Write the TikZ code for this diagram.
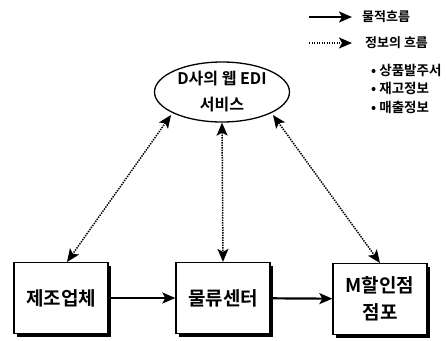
\documentclass[tikz,border=0pt]{standalone}
\usepackage{fontspec}
\setmainfont{Noto Sans CJK KR}[BoldFont={* Bold}]
\usetikzlibrary{arrows.meta,shadows,shapes.geometric}
\begin{document}
\begin{tikzpicture}[x=1pt,y=-1pt,
  box/.style={draw,line width=1.3pt,fill=white,minimum width=94pt,minimum height=71pt,
    inner sep=0pt,align=center,font=\fontsize{19}{27}\selectfont\bfseries,
    drop shadow={shadow xshift=3pt,shadow yshift=-3pt,fill=black,opacity=1}},
  tip/.tip={Stealth[length=13pt,width=11pt,inset=3pt]},
  flow/.style={line width=2.2pt,-tip},
  info/.style={line width=1.5pt,dash pattern=on 1.4pt off 1.1pt,tip-tip},
  lg/.style={font=\fontsize{13}{14}\selectfont\bfseries,anchor=west,inner sep=0pt},
  lb/.style={font=\fontsize{13.5}{14}\selectfont\bfseries,anchor=west,inner sep=0pt}
]
\useasboundingbox (0,0) rectangle (446,340);
% nodes
\node[draw,ellipse,line width=1.3pt,minimum width=135pt,minimum height=60pt,inner sep=0pt,align=center,
  font=\fontsize{16}{26}\selectfont\bfseries] (edi) at (222,92) {D사의 웹 EDI\\서비스};
\node[box] (mfg) at (61,298) {제조업체};
\node[box] (dc) at (223,298) {물류센터};
\node[box] (store) at (380,299) {M할인점\\점포};
% flows
\draw[flow] (mfg) -- (dc);
\draw[flow] (dc) -- (store);
% info
\coordinate (e1) at (171,115);
\coordinate (e3) at (273,115);
\draw[info] (e1) -- (67,262);
\draw[info] (edi.south) -- (dc.north);
\draw[info] (e3) -- (380,263);
% legend
\coordinate (l1a) at (309,17); \coordinate (l1b) at (352,17);
\coordinate (l2a) at (309,43); \coordinate (l2b) at (352,43);
\draw[flow] (l1a) -- (l1b);
\draw[line width=1.5pt,dash pattern=on 1.4pt off 1.1pt,-tip] (l2a) -- (l2b);
\node[lg] (t1) at (362,17) {물적흐름};
\node[lg] (t2) at (365,43) {정보의 흐름};
\node[lb] (b1) at (371,70) {• 상품발주서};
\node[lb] (b2) at (371,88) {• 재고정보};
\node[lb] (b3) at (371,107) {• 매출정보};
\end{tikzpicture}
\end{document}
